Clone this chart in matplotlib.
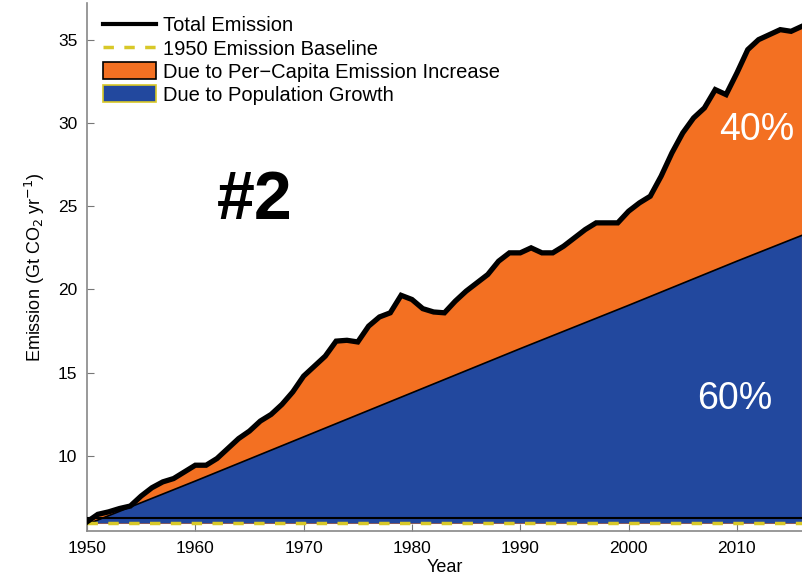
import numpy as np
import matplotlib
matplotlib.use('Agg')
import matplotlib.pyplot as plt
from matplotlib.lines import Line2D
from matplotlib.patches import Patch

plt.rcParams['font.family'] = ['Liberation Sans', 'DejaVu Sans']

# global CO2 emission, Gt CO2 per year
years = np.arange(1950, 2017)
total = [6.05, 6.5, 6.65, 6.85, 7.0, 7.6, 8.1, 8.45, 8.65, 9.05,
         9.45, 9.45, 9.85, 10.45, 11.05, 11.5, 12.1, 12.5, 13.1, 13.85,
         14.8, 15.4, 16.0, 16.9, 16.95, 16.85, 17.8, 18.35, 18.6, 19.65,
         19.4, 18.85, 18.65, 18.6, 19.3, 19.9, 20.4, 20.9, 21.7, 22.2,
         22.2, 22.5, 22.2, 22.2, 22.6, 23.1, 23.6, 24.0, 24.0, 24.0,
         24.7, 25.2, 25.6, 26.8, 28.2, 29.4, 30.3, 30.9, 32.0, 31.7,
         33.0, 34.4, 35.0, 35.3, 35.6, 35.5, 35.8]

# emission if per-capita stayed at 1950 level
pop_years = [1950, 1960, 1970, 1980, 1990, 2000, 2010, 2016]
pop_emission = [5.9, 8.5, 11.15, 13.8, 16.45, 19.05, 21.7, 23.25]

baseline = 6.0
floor_line = 6.28
bottom = 5.95

orange = '#F37022'
blue = '#22489E'
yellow = '#D8C828'

fig = plt.figure(figsize=(8.03, 5.77), dpi=100)
ax = fig.add_axes([0.1083, 0.0797, 0.8917, 0.9151])

ax.fill_between(years, bottom, total, color=orange, lw=0, zorder=1)
ax.fill_between(pop_years, bottom, pop_emission, facecolor=blue, edgecolor='none', zorder=2)
ax.plot(pop_years, pop_emission, color='black', lw=1.2, zorder=3)
ax.axhline(floor_line, color='black', lw=1.5, zorder=3)
ax.axhline(baseline, color=yellow, lw=2.5, ls=(0, (3, 3)), zorder=4)
ax.plot(years, total, color='black', lw=3.8, solid_joinstyle='miter', zorder=5)

ax.text(1965.5, 25.3, '#2', fontsize=49, fontweight='bold', ha='center', va='center')
ax.text(2011.8, 29.55, '40%', fontsize=27, color='white', ha='center', va='center', zorder=6)
ax.text(2009.8, 13.4, '60%', fontsize=27, color='white', ha='center', va='center', zorder=6)

ax.set_xlim(1950, 2016.1)
ax.set_ylim(5.5, 37.2)
ax.set_xticks(range(1950, 2011, 10))
ax.set_yticks(range(10, 36, 5))
ax.tick_params(direction='in', length=5, color='#777777', labelsize=12.5, pad=7)
for s in ['top', 'right']:
    ax.spines[s].set_visible(False)
for s in ['left', 'bottom']:
    ax.spines[s].set_color('#888888')
    ax.spines[s].set_linewidth(1.2)

ax.set_xlabel('Year', fontsize=13, labelpad=2)
ax.set_ylabel('Emission (Gt CO$_2$ yr$^{-1}$)', fontsize=13, labelpad=8)

handles = [
    Line2D([], [], color='black', lw=3),
    Line2D([], [], color=yellow, lw=2.5, ls=(0, (3, 3))),
    Patch(facecolor=orange, edgecolor='black', lw=1.2),
    Patch(facecolor=blue, edgecolor=yellow, lw=1.2),
]
labels = ['Total Emission', '1950 Emission Baseline',
          'Due to Per\u2212Capita Emission Increase', 'Due to Population Growth']
ax.legend(handles, labels, loc='upper left', bbox_to_anchor=(0.0, 1.0057),
          frameon=False, fontsize=14.5, handlelength=2.64, handleheight=0.9,
          labelspacing=0.19, handletextpad=0.35, borderaxespad=0.4)

fig.savefig('out.png', dpi=100)
